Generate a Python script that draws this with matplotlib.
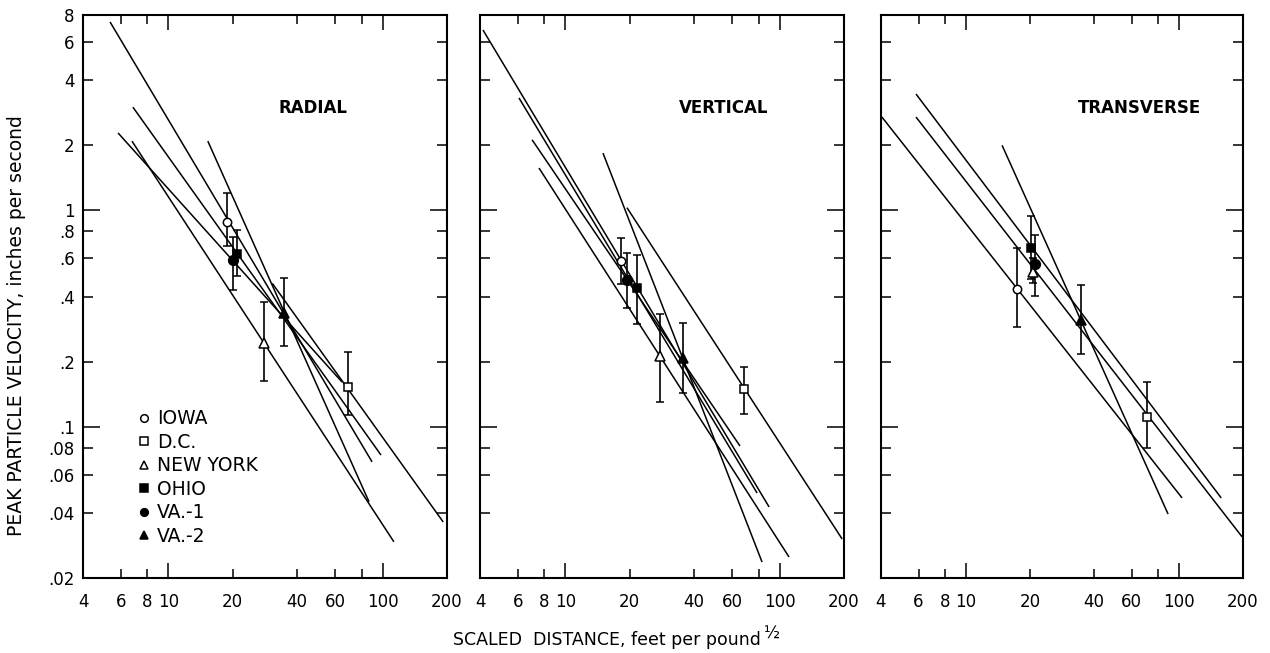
import matplotlib
matplotlib.use("Agg")
import matplotlib.pyplot as plt
from matplotlib.ticker import FixedLocator, FixedFormatter
from matplotlib.lines import Line2D

plt.rcParams['font.family'] = ['DejaVu Sans']

# ---------------- data ----------------
sites = ["IOWA", "D.C.", "NEW YORK", "OHIO", "VA.-1", "VA.-2"]

# RADIAL
radial_pt_x = [18.8, 69.0, 28.0, 21.0, 20.0, 34.7]
radial_pt_y = [0.88, 0.153, 0.244, 0.63, 0.59, 0.336]
radial_lo = [0.685, 0.113, 0.163, 0.50, 0.43, 0.236]
radial_hi = [1.20, 0.222, 0.378, 0.81, 0.75, 0.487]
radial_line_x0 = [5.35, 30.6, 6.77, 6.84, 5.83, 15.3]
radial_line_y0 = [7.43, 0.46, 2.09, 3.0, 2.28, 2.09]
radial_line_x1 = [89.4, 192.0, 113.0, 98.4, 64.7, 86.5]
radial_line_y1 = [0.0688, 0.0363, 0.0294, 0.074, 0.161, 0.045]

# VERTICAL
vert_pt_x = [18.2, 68.3, 27.7, 21.6, 19.4, 35.5]
vert_pt_y = [0.584, 0.1495, 0.2125, 0.438, 0.477, 0.208]
vert_lo = [0.457, 0.1146, 0.130, 0.299, 0.354, 0.143]
vert_hi = [0.746, 0.189, 0.332, 0.622, 0.636, 0.302]
vert_line_x0 = [4.13, 19.4, 7.54, 6.08, 7.0, 15.0]
vert_line_y0 = [6.82, 1.03, 1.57, 3.31, 2.12, 1.84]
vert_line_x1 = [89.4, 196.0, 110.8, 78.6, 65.4, 82.9]
vert_line_y1 = [0.0426, 0.0303, 0.025, 0.0494, 0.0815, 0.0237]

# TRANSVERSE
trans_pt_x = [17.4, 71.0, 20.6, 20.2, 21.1, 34.8]
trans_pt_y = [0.434, 0.111, 0.52, 0.67, 0.566, 0.312]
trans_lo = [0.289, 0.0798, 0.46, 0.482, 0.402, 0.217]
trans_hi = [0.67, 0.161, 0.60, 0.94, 0.77, 0.452]
trans_line_x0 = [4.04, 5.84, 5.84, 14.8]
trans_line_y0 = [2.70, 3.45, 2.70, 2.0]
trans_line_x1 = [103.5, 158.0, 198.0, 89.0]
trans_line_y1 = [0.0469, 0.0469, 0.031, 0.0395]

panel_titles = ["RADIAL", "VERTICAL", "TRANSVERSE"]

x_major = [10, 100]
x_major_labels = ["10", "100"]
x_minor = [4, 6, 8, 20, 40, 60, 80, 200]
x_minor_labels = ["4", "6", "8", "20", "40", "60", "", "200"]
y_major = [0.1, 1]
y_major_labels = [".1", "1"]
y_minor = [0.02, 0.04, 0.06, 0.08, 0.2, 0.4, 0.6, 0.8, 2, 4, 6, 8]
y_minor_labels = [".02", ".04", ".06", ".08", ".2", ".4", ".6", ".8", "2", "4", "6", "8"]

ylabel = "PEAK PARTICLE VELOCITY, inches per second"
xlabel = "SCALED  DISTANCE, feet per pound"

# ---------------- styles ----------------
markers = ['o', 's', '^', 's', 'o', '^']
filled = [False, False, False, True, True, True]
msizes = [6.0, 6.0, 6.5, 6.0, 7.0, 6.5]

W, H = 1270, 653
fig = plt.figure(figsize=(W / 100, H / 100), dpi=100)

panels = [
    (83, 364, radial_pt_x, radial_pt_y, radial_lo, radial_hi,
     radial_line_x0, radial_line_y0, radial_line_x1, radial_line_y1, 0.632),
    (480, 364, vert_pt_x, vert_pt_y, vert_lo, vert_hi,
     vert_line_x0, vert_line_y0, vert_line_x1, vert_line_y1, 0.670),
    (881, 362, trans_pt_x, trans_pt_y, trans_lo, trans_hi,
     trans_line_x0, trans_line_y0, trans_line_x1, trans_line_y1, 0.713),
]

top_px, bot_px = 15, 578
axes = []
for k, (lpx, wpx, px, py, lo, hi, lx0, ly0, lx1, ly1, tx) in enumerate(panels):
    ax = fig.add_axes([lpx / W, 1 - bot_px / H, wpx / W, (bot_px - top_px) / H])
    axes.append(ax)
    ax.set_xscale('log')
    ax.set_yscale('log')
    ax.set_xlim(4, 200)
    ax.set_ylim(0.02, 8)
    for s in ax.spines.values():
        s.set_linewidth(1.5)

    ax.xaxis.set_major_locator(FixedLocator(x_major))
    ax.xaxis.set_major_formatter(FixedFormatter(x_major_labels))
    ax.xaxis.set_minor_locator(FixedLocator(x_minor))
    ax.xaxis.set_minor_formatter(FixedFormatter(x_minor_labels))
    ax.yaxis.set_major_locator(FixedLocator(y_major))
    ax.yaxis.set_minor_locator(FixedLocator(y_minor))
    if k == 0:
        ax.yaxis.set_major_formatter(FixedFormatter(y_major_labels))
        ax.yaxis.set_minor_formatter(FixedFormatter(y_minor_labels))
    else:
        ax.yaxis.set_major_formatter(FixedFormatter([""] * len(y_major)))
        ax.yaxis.set_minor_formatter(FixedFormatter([""] * len(y_minor)))

    ax.tick_params(which='both', direction='in', top=True, right=True,
                   width=1.1, color='black', labelsize=12)
    ax.tick_params(axis='x', which='major', length=11, pad=11)
    ax.tick_params(axis='x', which='minor', length=6.5, pad=11)
    ax.tick_params(axis='y', which='major', length=12, pad=6)
    ax.tick_params(axis='y', which='minor', length=7, pad=6)

    for i in range(len(lx0)):
        ax.plot([lx0[i], lx1[i]], [ly0[i], ly1[i]], color='black', lw=1.1,
                solid_capstyle='butt', zorder=2)

    for i in range(len(px)):
        ax.errorbar([px[i]], [py[i]],
                    yerr=[[py[i] - lo[i]], [hi[i] - py[i]]],
                    fmt=markers[i], ms=msizes[i],
                    mfc='black' if filled[i] else 'white', mec='black', mew=1.1,
                    ecolor='black', elinewidth=1.2, capsize=2.8, capthick=1.1,
                    zorder=3)

    ax.text(tx, 0.835, panel_titles[k], transform=ax.transAxes,
            ha='center', va='center', fontsize=12, fontweight='bold')

# legend in first panel
handles = [Line2D([], [], linestyle='none', marker=markers[i], ms=5.5,
                  mfc='black' if filled[i] else 'white', mec='black', mew=1.1)
           for i in range(len(sites))]
axes[0].legend(handles, sites, loc='upper left', bbox_to_anchor=(0.154, 0.30),
               frameon=False, handlelength=0.5, handletextpad=0.45,
               labelspacing=0.24, fontsize=13.5, borderaxespad=0, borderpad=0)

fig.text(17 / W, 1 - 326 / H, ylabel, rotation=90, ha='center', va='center',
         fontsize=13.5)
t = fig.text(607 / W, 1 - 640 / H, xlabel, ha='center', va='center', fontsize=12.5)
fig.canvas.draw()
bb = t.get_window_extent()
fig.text((bb.x1 + 3) / W, (bb.y0 + 6) / H, "\u00bd", ha='left', va='bottom',
         fontsize=12)

fig.savefig("out.png", dpi=100)
